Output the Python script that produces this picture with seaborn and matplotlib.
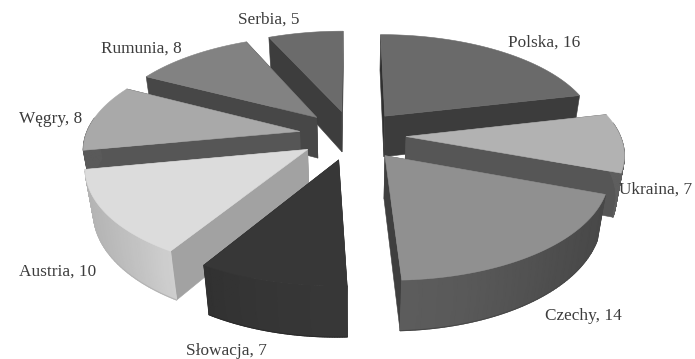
import numpy as np
import matplotlib
matplotlib.use("Agg")
import matplotlib.pyplot as plt
from matplotlib.colors import to_rgb
import seaborn as sns

# Shares per country, clockwise from twelve o'clock
countries = ["Polska", "Ukraina", "Czechy", "Słowacja", "Austria", "Węgry", "Rumunia", "Serbia"]
shares = [16, 7, 14, 7, 10, 8, 8, 5]

# Grey levels per slice
top_greys = ["#6a6a6a", "#b2b2b2", "#909090", "#373737", "#dcdcdc", "#a9a9a9", "#828282", "#6b6b6b"]
outer_greys = ["#4a4a4a", "#5e5e5e", "#484848", "#2b2b2b", "#b4b4b4", "#5a5a5a", "#474747", "#404040"]
start_greys = ["#303030", "#4a4a4a", "#585858", "#1e1e1e", "#a2a2a2", "#565656", "#474747", "#3d3d3d"]
end_greys = ["#3c3c3c", "#565656", "#3f3f3f", "#1e1e1e", "#8a8a8a", "#3f3f3f", "#333333", "#3d3d3d"]

# Label centres in pixels
label_xy = [(544, 42.5), (656, 189.5), (583, 316.5), (226, 351), (58, 271.5), (51, 119), (141, 49), (269, 20)]

# Camera and pie proportions
CX, CY = 352.5, 135.0
SCALE_X, SCALE_Y, THICK = 214.0, 99.0, 43.0
PERSP_Y, PERSP_Z = 0.15, 0.03
EXPLODE = 0.25

sns.set_theme(style="white")
plt.rcParams["font.family"] = ["Liberation Serif", "DejaVu Serif"]


def project(x, y, z):
    """Perspective projection of pie coordinates onto pixel coordinates."""
    x, y, z = np.asarray(x), np.asarray(y), np.asarray(z)
    flat = 1 + PERSP_Y * y
    w = flat - PERSP_Z * z
    return CX + SCALE_X * x / w, CY - SCALE_Y * y / flat - THICK * z / w


fig, ax = plt.subplots(figsize=(6.95, 3.59), dpi=100)
fig.subplots_adjust(0, 0, 1, 1)
ax.set_xlim(0, 695)
ax.set_ylim(359, 0)
ax.axis("off")

edges = np.radians(np.concatenate([[0], np.cumsum(shares)]) * 360.0 / sum(shares))
mids = (edges[:-1] + edges[1:]) / 2
order = np.argsort(-np.cos(mids))  # farthest slices are painted first


def face(xs, ys, zs, colour, z):
    px, py = project(np.array(xs), np.array(ys), np.array(zs))
    ax.fill(px, py, facecolor=colour, edgecolor=colour, linewidth=0.4, zorder=z)


for rank, i in enumerate(order):
    ox, oy = EXPLODE * np.sin(mids[i]), EXPLODE * np.cos(mids[i])
    theta = np.linspace(edges[i], edges[i + 1], 60)
    rim_x, rim_y = ox + np.sin(theta), oy + np.cos(theta)
    base = rank * 10
    depth = np.array([0, 0, -1, -1])

    # Radial cut faces, the farther one first
    cuts = [(rim_x[0], rim_y[0], start_greys[i]), (rim_x[-1], rim_y[-1], end_greys[i])]
    cuts.sort(key=lambda c: -c[1])
    for k, (ex, ey, colour) in enumerate(cuts):
        face([ox, ex, ex, ox], [oy, ey, ey, oy], depth, colour, base + k)

    # Rim facing the viewer, smoothly shaded and brighter towards the front
    front = np.cos(theta) < 0.15
    if front.sum() > 1:
        tx, ty = rim_x[front], rim_y[front]
        grey = np.mean(to_rgb(outer_greys[i]))
        shade = grey * (1 + 0.28 * np.clip(-np.cos(theta[front]), 0, 1) ** 4)
        upper = project(tx, ty, np.zeros_like(tx))
        lower = project(tx, ty, -np.ones_like(tx))
        ax.pcolormesh(np.vstack([upper[0], lower[0]]), np.vstack([upper[1], lower[1]]),
                      np.vstack([shade, shade]), cmap="gray", vmin=0, vmax=1,
                      shading="gouraud", zorder=base + 2)
        ax.plot(lower[0], lower[1], color=outer_greys[i], linewidth=0.8, zorder=base + 3)

    face(np.concatenate([[ox], rim_x]), np.concatenate([[oy], rim_y]), np.zeros(61), top_greys[i], base + 5)

for name, value, (lx, ly) in zip(countries, shares, label_xy):
    ax.text(lx, ly, f"{name}, {value}", ha="center", va="center", fontsize=12.4,
            color="#3c3c3c", zorder=200)

fig.savefig("out.png", dpi=100)
